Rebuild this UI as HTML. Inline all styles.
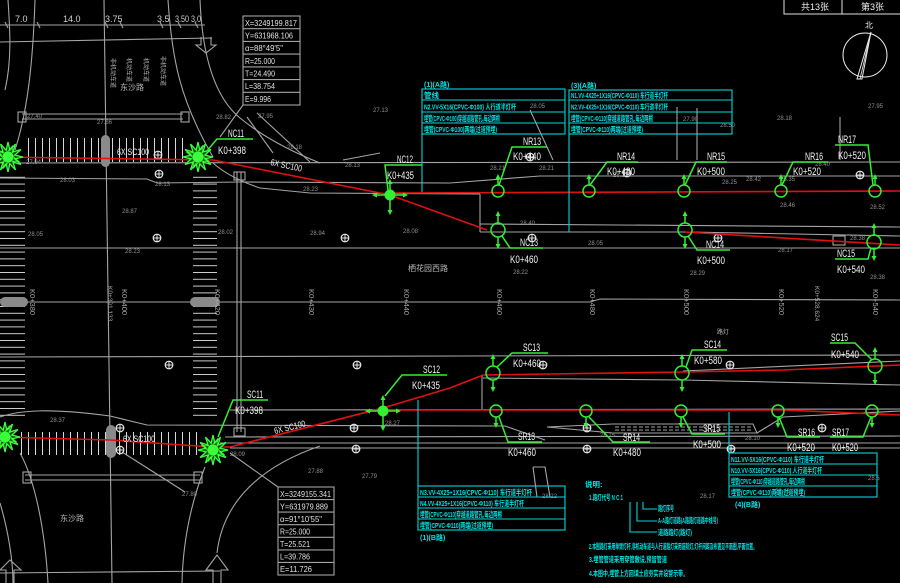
<!DOCTYPE html>
<html><head><meta charset="utf-8">
<style>
html,body{margin:0;padding:0;background:#000;width:900px;height:583px;overflow:hidden}
svg{display:block}
text{font-family:"Liberation Sans","Noto Sans CJK SC",sans-serif}
.g{stroke:#a4a4a4;stroke-width:1.1;fill:none}
.lbl{fill:#f2f2f2;font-size:11px}
.el{fill:#909090;font-size:6px}
.st{fill:#a8a8a8;font-size:7.5px}
.ct{fill:#00e4e4;font-size:7.5px;font-weight:bold}
.gr{stroke:#33f033;stroke-width:1.5;fill:none}
.gf{fill:#33f033}
.rd{stroke:#e01010;stroke-width:1.6;fill:none}
.cy{stroke:#00d8d8;stroke-width:1.1;fill:none}
.bx{fill:#e0e0e0;font-size:8px}
</style></head><body>
<svg width="900" height="583" viewBox="0 0 900 583" xmlns="http://www.w3.org/2000/svg">
<defs>
<g id="star">
<polygon points="15,0 6.76,1.81 12.99,7.5 4.95,4.95 7.5,12.99 1.81,6.76 0,15 -1.81,6.76 -7.5,12.99 -4.95,4.95 -12.99,7.5 -6.76,1.81 -15,0 -6.76,-1.81 -12.99,-7.5 -4.95,-4.95 -7.5,-12.99 -1.81,-6.76 0,-15 1.81,-6.76 7.5,-12.99 4.95,-4.95 12.99,-7.5 6.76,-1.81" fill="#0d4a0d" stroke="#3cff3c" stroke-width="1.3"/>
<polygon points="0,-12 3,-3 12,0 3,3 0,12 -3,3 -12,0 -3,-3" fill="none" stroke="#3cff3c" stroke-width="0.8" transform="rotate(22)"/>
<circle r="5.5" fill="#3cff3c"/>
</g>
<g id="mh"><circle r="3.8" fill="none" stroke="#e6e6e6" stroke-width="1.2"/><path d="M-3.8,0H3.8M0,-3.8V3.8" stroke="#e6e6e6" stroke-width="1"/></g>
<g id="nr"><circle r="6" class="gr"/><path d="M0,-6V-15" class="gr"/><path d="M0,-17l-2.5,5h5z" class="gf"/></g>
<g id="sr"><circle r="6" class="gr"/><path d="M0,6V15" class="gr"/><path d="M0,17l-2.5,-5h5z" class="gf"/></g>
<g id="nc"><circle r="7" class="gr"/><path d="M0,-7V-17M0,7V17" class="gr"/><path d="M0,-19l-2.5,5h5zM0,19l-2.5,-5h5z" class="gf"/></g>
<g id="lamp"><circle r="5.5" class="gf"/><path d="M-16,0H16M0,-14V18" class="gr"/><path d="M-18,0l5,-2.5v5zM18,0l-5,-2.5v5zM0,20l-2.5,-5h5zM0,-16l-2.5,5h5z" class="gf"/></g>
<pattern id="vs" width="7" height="40" patternUnits="userSpaceOnUse"><line x1="0.5" y1="0" x2="0.5" y2="40" stroke="#d8d8d8" stroke-width="1"/></pattern>
<pattern id="hs" width="40" height="6.8" patternUnits="userSpaceOnUse"><line x1="0" y1="0.5" x2="40" y2="0.5" stroke="#d0d0d0" stroke-width="1"/></pattern>
</defs>
<rect width="900" height="583" fill="#000"/>

<!-- crosswalks -->
<rect x="27" y="138" width="156" height="24" fill="url(#vs)"/>
<rect x="20" y="432" width="180" height="23" fill="url(#vs)"/>
<rect x="0" y="176" width="25" height="245" fill="url(#hs)"/>
<rect x="193" y="176" width="24" height="245" fill="url(#hs)"/>

<!-- grey road lines -->
<g class="g">
<path d="M0,25H205M5,22l3,6M37,22l3,6M105,22l3,6M120,22l3,6M160,22l3,6M178,22l3,6M195,22l3,6"/>
<path d="M0,42L212,38"/>
<path d="M201,37V45H196L206,53L216,45H211V37"/>
<path d="M35,0C33,60 28,110 15,150"/>
<path d="M8,0C10,30 12,60 5,90"/>
<path d="M104,0L112,583"/>
<path d="M168,0C172,60 180,100 213,157"/>
<path d="M200,0C202,50 212,95 240,118S300,155 320,163"/>
<path d="M247,117L273,153M257,113L310,162M343,160L380,153"/>
<path d="M243,105L220,137"/>
<path d="M22,114H183M22,119H183"/>
<rect x="18" y="112" width="8" height="10"/><rect x="181" y="112" width="8" height="10"/>
<path d="M0,163L900,162"/>
<path d="M0,178L147,179L157,183L240,182L450,183L540,176L900,176"/>
<path d="M213,163Q230,178 260,188L310,193L480,194"/>
<path d="M480,194V232"/>
<path d="M480,224L900,227"/>
<path d="M480,232L690,232L900,236"/>
<path d="M0,248L900,248"/>
<path d="M0,302L590,302L600,299L900,300"/>
<path d="M0,357L900,355"/>
<path d="M237,172V432M241,172V432"/>
<rect x="234" y="172" width="11" height="8"/>
<rect x="234" y="428" width="11" height="8"/>
<path d="M677,107V160M697,108V160M840,117V160M530,110L553,160"/>
<rect x="833" y="236" width="12" height="9"/>
<path d="M483,378L683,380L900,385"/>
<path d="M683,371L900,361"/>
<path d="M482,375V410"/>
<path d="M230,410L900,409"/>
<path d="M0,417C20,410 50,408 110,416L147,425L505,426L545,440"/>
<path d="M225,437L900,436"/>
<path d="M220,443L900,443"/>
<path d="M205,467C192,500 183,540 182,583"/>
<path d="M217,553C222,510 250,470 320,446"/>
<path d="M20,453C35,480 45,530 48,583"/>
<path d="M0,503C8,530 13,560 13,583"/>
<path d="M230,448L900,448"/>
<path d="M547,427L613,424L753,424L757,433L613,433Z"/>
<path d="M615,427H752M615,430H752" stroke-dasharray="4,2"/>
<path d="M757,433L783,417L900,411"/>
<path d="M25,475H200M25,480H200"/>
<rect x="23" y="472" width="8" height="11"/><rect x="194" y="472" width="8" height="11"/>
<path d="M0,573L220,571"/>
<path d="M6,583V570H0L10,560L21,570H14V583"/>
<path d="M213,583V570H206L217,555L228,570H221V583"/>
<path d="M230,453L278,487M122,452L185,492"/>
<path d="M533,467H545L550,497M533,467L537,497"/>
</g>
<!-- pills -->
<rect x="101" y="135" width="9" height="32" rx="4.5" fill="#8a8a8a"/>
<rect x="0" y="297" width="28" height="10" rx="5" fill="#8a8a8a"/>
<rect x="190" y="297" width="30" height="10" rx="5" fill="#8a8a8a"/>
<rect x="106" y="425" width="10" height="33" rx="5" fill="#8a8a8a"/>

<!-- coordinate boxes -->
<g class="g">
<rect x="243" y="16" width="57" height="89"/>
<path d="M243,28.7H300M243,41.4H300M243,54.1H300M243,66.9H300M243,79.6H300M243,92.3H300"/>
<rect x="278" y="487" width="56" height="88"/>
<path d="M278,499.6H334M278,512.1H334M278,524.7H334M278,537.3H334M278,549.9H334M278,562.4H334"/>
</g>
<g class="bx">
<text x="245" y="26" textLength="52" lengthAdjust="spacingAndGlyphs">X=3249199.817</text>
<text x="245" y="38.5" textLength="48" lengthAdjust="spacingAndGlyphs">Y=631968.106</text>
<text x="245" y="51" textLength="38" lengthAdjust="spacingAndGlyphs">α=88°49'5"</text>
<text x="245" y="64" textLength="30" lengthAdjust="spacingAndGlyphs">R=25.000</text>
<text x="245" y="76.5" textLength="30" lengthAdjust="spacingAndGlyphs">T=24.490</text>
<text x="245" y="89" textLength="30" lengthAdjust="spacingAndGlyphs">L=38.754</text>
<text x="245" y="102" textLength="26" lengthAdjust="spacingAndGlyphs">E=9.996</text>
<text x="280" y="497" textLength="51" lengthAdjust="spacingAndGlyphs">X=3249155.341</text>
<text x="280" y="509.5" textLength="48" lengthAdjust="spacingAndGlyphs">Y=631979.889</text>
<text x="280" y="522" textLength="42" lengthAdjust="spacingAndGlyphs">α=91°10'55"</text>
<text x="280" y="534.5" textLength="30" lengthAdjust="spacingAndGlyphs">R=25.000</text>
<text x="280" y="547" textLength="30" lengthAdjust="spacingAndGlyphs">T=25.521</text>
<text x="280" y="559.5" textLength="30" lengthAdjust="spacingAndGlyphs">L=39.786</text>
<text x="280" y="572" textLength="32" lengthAdjust="spacingAndGlyphs">E=11.726</text>
</g>

<!-- dimension texts -->
<g fill="#cfcfcf" font-size="9">
<text x="15" y="22">7.0</text>
<text x="63" y="22">14.0</text>
<text x="105" y="22">3.75</text>
<text x="157" y="22">3.5</text>
<text x="175" y="22" textLength="26" lengthAdjust="spacingAndGlyphs">3.50 3.0</text>
</g>

<!-- road names -->
<g fill="#b0b0b0" font-size="6">
<text transform="translate(111,58) rotate(90)">非机动车道</text>
<text transform="translate(127,58) rotate(90)">机动车道</text>
<text transform="translate(144,58) rotate(90)">机动车道</text>
<text transform="translate(161,56) rotate(90)">非机动车道</text>
</g>
<text x="120" y="90" fill="#b8b8b8" font-size="8">东沙路</text>
<text x="408" y="271" fill="#b8b8b8" font-size="8">栖花园西路</text>
<text x="60" y="521" fill="#b8b8b8" font-size="8">东沙路</text>
<text x="717" y="334" fill="#b8b8b8" font-size="6">路灯</text>

<!-- stations -->
<g class="st">
<text transform="translate(30,289) rotate(90)">K0+380</text>
<text transform="translate(108,286) rotate(90)" font-size="6.5">K0+391.133</text>
<text transform="translate(122,289) rotate(90)">K0+400</text>
<text transform="translate(215,289) rotate(90)">K0+420</text>
<text transform="translate(309,289) rotate(90)">K0+430</text>
<text transform="translate(404,289) rotate(90)">K0+440</text>
<text transform="translate(497,289) rotate(90)">K0+460</text>
<text transform="translate(590,289) rotate(90)">K0+480</text>
<text transform="translate(684,289) rotate(90)">K0+500</text>
<text transform="translate(779,289) rotate(90)">K0+520</text>
<text transform="translate(815,286) rotate(90)" font-size="6.5">K0+528.624</text>
<text transform="translate(873,289) rotate(90)">K0+540</text>
</g>

<!-- elevations -->
<g class="el">
<text x="27" y="118">27.40</text><text x="97" y="124">27.86</text><text x="26" y="164">27.94</text>
<text x="60" y="182">28.03</text><text x="155" y="186">28.13</text><text x="122" y="213">28.87</text>
<text x="28" y="236">28.05</text><text x="218" y="234">28.02</text><text x="125" y="253">28.23</text>
<text x="216" y="119">28.82</text><text x="258" y="118">27.95</text><text x="287" y="149">28.18</text>
<text x="345" y="167">28.13</text><text x="303" y="191">28.23</text><text x="310" y="235">28.94</text>
<text x="403" y="233">28.08</text><text x="373" y="112">27.13</text><text x="530" y="108">28.05</text>
<text x="683" y="121">27.90</text><text x="720" y="127">28.50</text><text x="777" y="120">28.18</text>
<text x="868" y="108">27.95</text><text x="490" y="170">28.21</text><text x="539" y="170">28.21</text>
<text x="613" y="177">28.21</text><text x="722" y="184">28.25</text><text x="746" y="181">28.42</text>
<text x="780" y="181">28.35</text><text x="780" y="207">28.46</text><text x="870" y="209">28.52</text>
<text x="520" y="225">28.40</text><text x="588" y="245">28.05</text><text x="778" y="252">28.17</text>
<text x="513" y="274">28.22</text><text x="690" y="275">28.29</text><text x="850" y="240">28.38</text>
<text x="870" y="279">28.38</text><text x="815" y="166">28.40</text>
<text x="50" y="422">28.37</text><text x="182" y="496">27.80</text><text x="230" y="456">28.09</text>
<text x="308" y="473">27.88</text><text x="362" y="478">27.79</text><text x="542" y="498">28.22</text>
<text x="700" y="498">28.17</text><text x="745" y="440">28.10</text><text x="868" y="480">28.6</text>
<text x="385" y="425">28.27</text><text x="775" y="493">28.46</text><text x="600" y="437">28.15</text>
</g>

<!-- manholes -->
<use href="#mh" x="158" y="155"/><use href="#mh" x="159" y="174"/><use href="#mh" x="157" y="238"/>
<use href="#mh" x="345" y="238"/><use href="#mh" x="530" y="157"/><use href="#mh" x="532" y="238"/>
<use href="#mh" x="627" y="173"/><use href="#mh" x="718" y="238"/><use href="#mh" x="860" y="175"/>
<use href="#mh" x="169" y="365"/><use href="#mh" x="357" y="365"/><use href="#mh" x="120" y="428"/>
<use href="#mh" x="120" y="450"/><use href="#mh" x="354" y="428"/><use href="#mh" x="356" y="449"/>
<use href="#mh" x="543" y="365"/><use href="#mh" x="730" y="365"/><use href="#mh" x="587" y="428"/>
<use href="#mh" x="587" y="449"/><use href="#mh" x="731" y="449"/><use href="#mh" x="822" y="428"/>

<!-- red cables -->
<g class="rd">
<path d="M0,157L213,160L390,195L487,230"/>
<path d="M685,232L900,245"/>
<path d="M390,193L900,191"/>
<path d="M0,437L110,440L213,447L230,447L383,408L450,388L483,375L683,372L783,370L900,365"/>
<path d="M383,410L783,410L900,415"/>
</g>

<!-- cable labels -->
<g fill="#f0f0f0" font-size="9">
<text x="117" y="155" textLength="32" lengthAdjust="spacingAndGlyphs">6X SC100</text>
<text transform="translate(270,165) rotate(12)" textLength="32" lengthAdjust="spacingAndGlyphs">6X SC100</text>
<text x="123" y="442" textLength="32" lengthAdjust="spacingAndGlyphs">6X SC100</text>
<text transform="translate(275,434) rotate(-14)" textLength="32" lengthAdjust="spacingAndGlyphs">6X SC100</text>
</g>

<!-- cyan tables -->
<g class="cy">
<rect x="422" y="89" width="143" height="45"/>
<path d="M422,100H565M422,112H565M422,123H565M422,134V192"/>
<rect x="569" y="90" width="163" height="44"/>
<path d="M569,100H732M569,112H732M569,123H732M569,134V232"/>
<rect x="418" y="486" width="147" height="44"/>
<path d="M418,497H565M418,508H565M418,519H565M418,400V486"/>
<rect x="729" y="453" width="148" height="44"/>
<path d="M729,464H877M729,475H877M729,486H877M729,412V453"/>
<path d="M630,502V532H657M637,502V521H657M643,502V509H657"/>
</g>
<g class="ct">
<text x="424" y="87" font-size="7">(1)(A路)</text>
<text x="424" y="98">管线</text>
<text x="424" y="109.5" textLength="92" lengthAdjust="spacingAndGlyphs">N2.VV-5X16(CPVC-Φ100) 人行道半灯杆</text>
<text x="424" y="121" textLength="76" lengthAdjust="spacingAndGlyphs">埋管(CPVC-Φ100)穿越道路管孔,每边两根</text>
<text x="424" y="132" textLength="73" lengthAdjust="spacingAndGlyphs">埋管(CPVC-Φ100)两端(过道预埋)</text>
<text x="571" y="88" font-size="7">(3)(A路)</text>
<text x="571" y="98" textLength="97" lengthAdjust="spacingAndGlyphs">N1.VV-4X25+1X16(CPVC-Φ110) 车行道半灯杆</text>
<text x="571" y="109.5" textLength="97" lengthAdjust="spacingAndGlyphs">N2.VV-4X25+1X16(CPVC-Φ110) 车行道半灯杆</text>
<text x="571" y="121" textLength="82" lengthAdjust="spacingAndGlyphs">埋管(CPVC-Φ110)穿越道路管孔,每边两根</text>
<text x="571" y="132" textLength="72" lengthAdjust="spacingAndGlyphs">埋管(CPVC-Φ110)两端(过道预埋)</text>
<text x="420" y="495" textLength="112" lengthAdjust="spacingAndGlyphs">N3.VV-4X25+1X16(CPVC-Φ110) 车行道半灯杆</text>
<text x="420" y="506" textLength="104" lengthAdjust="spacingAndGlyphs">N4.VV-4X25+1X16(CPVC-Φ110) 车行道半灯杆</text>
<text x="420" y="517" textLength="82" lengthAdjust="spacingAndGlyphs">埋管(CPVC-Φ110)穿越道路管孔,每边两根</text>
<text x="420" y="528" textLength="73" lengthAdjust="spacingAndGlyphs">埋管(CPVC-Φ110)两端(过道预埋)</text>
<text x="420" y="540" font-size="7">(1)(B路)</text>
<text x="731" y="462" textLength="93" lengthAdjust="spacingAndGlyphs">N11.VV-5X16(CPVC-Φ110) 车行道半灯杆</text>
<text x="731" y="473" textLength="91" lengthAdjust="spacingAndGlyphs">N10.VV-5X16(CPVC-Φ110) 人行道半灯杆</text>
<text x="731" y="484" textLength="74" lengthAdjust="spacingAndGlyphs">埋管(CPVC-Φ110)穿越道路管孔,每边两根</text>
<text x="731" y="495" textLength="74" lengthAdjust="spacingAndGlyphs">埋管(CPVC-Φ110)两端(过道预埋)</text>
<text x="735" y="507" font-size="7">(4)(B路)</text>
<text x="585" y="487">说明:</text>
<text x="589" y="500" textLength="34" lengthAdjust="spacingAndGlyphs">1.路灯代号 N C 1</text>
<text x="658" y="511" textLength="16" lengthAdjust="spacingAndGlyphs">路灯序号</text>
<text x="658" y="523" textLength="60" lengthAdjust="spacingAndGlyphs">A-A路灯道路(A路路灯道路中线号)</text>
<text x="658" y="535" textLength="34" lengthAdjust="spacingAndGlyphs">道路路灯(路灯)</text>
<text x="589" y="549" textLength="168" lengthAdjust="spacingAndGlyphs">2.本图路灯采用单臂灯杆,非机动车道与人行道路灯采用庭院灯,灯杆间距及布置见平面图,平面位置。</text>
<text x="589" y="562" textLength="78" lengthAdjust="spacingAndGlyphs">3.埋管管道采用穿管敷设,预留管道</text>
<text x="589" y="576" textLength="99" lengthAdjust="spacingAndGlyphs">4.本图中,埋管上方回填土应夯实并设警示带。</text>
</g>

<!-- lamps top -->
<use href="#star" x="8" y="157"/>
<use href="#star" x="198" y="157"/>
<use href="#lamp" x="390" y="195"/>
<use href="#nr" x="498" y="191"/><use href="#nr" x="589" y="191"/><use href="#nr" x="684" y="191"/>
<use href="#nr" x="781" y="191"/><use href="#nr" x="875" y="191"/>
<use href="#nc" x="498" y="230"/><use href="#nc" x="685" y="230"/><use href="#nc" x="874" y="242"/>
<!-- lamps bottom -->
<use href="#star" x="5" y="437"/>
<use href="#star" x="213" y="450"/>
<use href="#lamp" x="383" y="411"/>
<use href="#nc" x="493" y="373"/><use href="#nc" x="682" y="373"/><use href="#nc" x="875" y="366"/>
<use href="#sr" x="496" y="411"/><use href="#sr" x="586" y="411"/><use href="#sr" x="681" y="411"/>
<use href="#sr" x="778" y="411"/><use href="#sr" x="872" y="411"/>

<!-- leaders -->
<g class="gr" stroke-width="1.2">
<path d="M206,152L217,139H253"/>
<path d="M388,190L385,165H422"/>
<path d="M499,185L512,147H547"/>
<path d="M590,185L607,162H638"/>
<path d="M685,185L696,162H727"/>
<path d="M782,185L793,162H828"/>
<path d="M873,185L868,145H835"/>
<path d="M502,236L510,248H543"/>
<path d="M688,236L697,250H730"/>
<path d="M871,248L868,259H835"/>
<path d="M218,437L233,400H268"/>
<path d="M385,396L402,375H447"/>
<path d="M497,367L512,353H548"/>
<path d="M686,367L692,350H727"/>
<path d="M872,360L855,343H830"/>
<path d="M499,417L508,442H542"/>
<path d="M589,417L613,442H650"/>
<path d="M683,417L692,434H725"/>
<path d="M779,417L787,437H820"/>
<path d="M871,417L863,437H830"/>
</g>

<!-- labels -->
<g class="lbl">
<text x="228" y="137" textLength="16" lengthAdjust="spacingAndGlyphs">NC11</text>
<text x="218" y="154" textLength="28" lengthAdjust="spacingAndGlyphs">K0+398</text>
<text x="397" y="163" textLength="16" lengthAdjust="spacingAndGlyphs">NC12</text>
<text x="387" y="179" textLength="27" lengthAdjust="spacingAndGlyphs">K0+435</text>
<text x="523" y="145" textLength="18" lengthAdjust="spacingAndGlyphs">NR13</text>
<text x="513" y="160" textLength="28" lengthAdjust="spacingAndGlyphs">K0+440</text>
<text x="617" y="160" textLength="18" lengthAdjust="spacingAndGlyphs">NR14</text>
<text x="607" y="175" textLength="28" lengthAdjust="spacingAndGlyphs">K0+480</text>
<text x="707" y="160" textLength="18" lengthAdjust="spacingAndGlyphs">NR15</text>
<text x="697" y="175" textLength="28" lengthAdjust="spacingAndGlyphs">K0+500</text>
<text x="805" y="160" textLength="18" lengthAdjust="spacingAndGlyphs">NR16</text>
<text x="793" y="175" textLength="28" lengthAdjust="spacingAndGlyphs">K0+520</text>
<text x="838" y="143" textLength="18" lengthAdjust="spacingAndGlyphs">NR17</text>
<text x="838" y="159" textLength="28" lengthAdjust="spacingAndGlyphs">K0+520</text>
<text x="520" y="246" textLength="18" lengthAdjust="spacingAndGlyphs">NC13</text>
<text x="510" y="263" textLength="28" lengthAdjust="spacingAndGlyphs">K0+460</text>
<text x="706" y="248" textLength="18" lengthAdjust="spacingAndGlyphs">NC14</text>
<text x="697" y="264" textLength="28" lengthAdjust="spacingAndGlyphs">K0+500</text>
<text x="837" y="257" textLength="18" lengthAdjust="spacingAndGlyphs">NC15</text>
<text x="837" y="273" textLength="28" lengthAdjust="spacingAndGlyphs">K0+540</text>
<text x="247" y="398" textLength="16" lengthAdjust="spacingAndGlyphs">SC11</text>
<text x="235" y="414" textLength="28" lengthAdjust="spacingAndGlyphs">K0+398</text>
<text x="423" y="373" textLength="17" lengthAdjust="spacingAndGlyphs">SC12</text>
<text x="412" y="389" textLength="28" lengthAdjust="spacingAndGlyphs">K0+435</text>
<text x="523" y="351" textLength="17" lengthAdjust="spacingAndGlyphs">SC13</text>
<text x="513" y="367" textLength="28" lengthAdjust="spacingAndGlyphs">K0+460</text>
<text x="704" y="348" textLength="17" lengthAdjust="spacingAndGlyphs">SC14</text>
<text x="694" y="364" textLength="28" lengthAdjust="spacingAndGlyphs">K0+580</text>
<text x="831" y="341" textLength="17" lengthAdjust="spacingAndGlyphs">SC15</text>
<text x="831" y="358" textLength="28" lengthAdjust="spacingAndGlyphs">K0+540</text>
<text x="518" y="440" textLength="17" lengthAdjust="spacingAndGlyphs">SR13</text>
<text x="508" y="456" textLength="28" lengthAdjust="spacingAndGlyphs">K0+460</text>
<text x="623" y="441" textLength="17" lengthAdjust="spacingAndGlyphs">SR14</text>
<text x="613" y="456" textLength="28" lengthAdjust="spacingAndGlyphs">K0+480</text>
<text x="703" y="432" textLength="17" lengthAdjust="spacingAndGlyphs">SR15</text>
<text x="693" y="448" textLength="28" lengthAdjust="spacingAndGlyphs">K0+500</text>
<text x="798" y="436" textLength="17" lengthAdjust="spacingAndGlyphs">SR16</text>
<text x="787" y="451" textLength="28" lengthAdjust="spacingAndGlyphs">K0+520</text>
<text x="832" y="436" textLength="17" lengthAdjust="spacingAndGlyphs">SR17</text>
<text x="832" y="451" textLength="26" lengthAdjust="spacingAndGlyphs">K0+520</text>
</g>

<!-- title block & compass -->
<path d="M784,0V14H900M842,0V14" stroke="#e0e0e0" stroke-width="1" fill="none"/>
<text x="801" y="10" fill="#f0f0f0" font-size="9">共13张</text>
<text x="861" y="10" fill="#f0f0f0" font-size="9">第3张</text>
<circle cx="865" cy="55" r="22" fill="none" stroke="#e8e8e8" stroke-width="1"/>
<polygon points="871,32 857,79 862,79" fill="none" stroke="#e8e8e8" stroke-width="1"/>
<path d="M871,32L860,79" stroke="#e8e8e8" stroke-width="0.8"/>
<text x="865" y="28" fill="#f0f0f0" font-size="8">北</text>
</svg>
</body></html>
